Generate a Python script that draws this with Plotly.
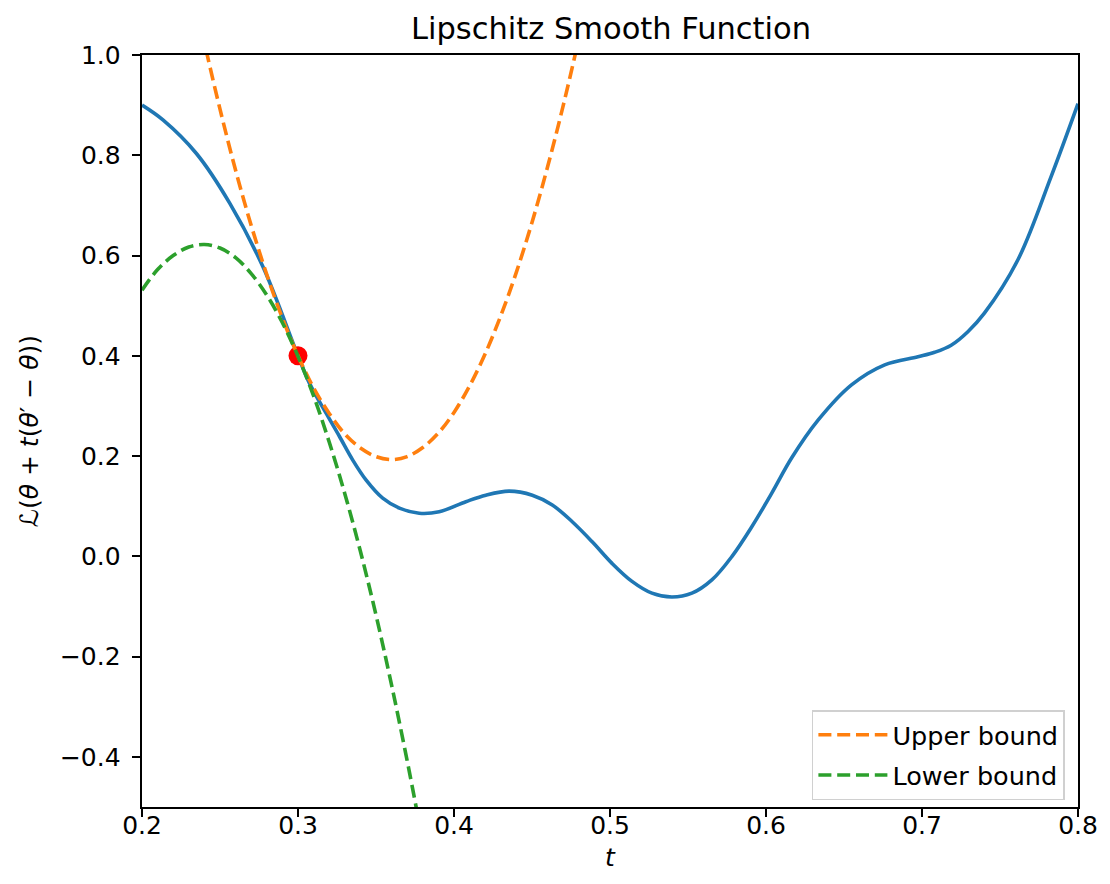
import plotly.graph_objects as go

# Loss curve L(theta + t(theta' - theta))
t_curve = [0.200, 0.2136, 0.235, 0.2563, 0.2776, 0.300, 0.3074, 0.3181, 0.3266, 0.3351,
           0.3437, 0.3543, 0.3650, 0.3777, 0.3905, 0.4076, 0.4204, 0.4353, 0.4502, 0.4630,
           0.4758, 0.4886, 0.5013, 0.5141, 0.5269, 0.5397, 0.5525, 0.5653, 0.5781, 0.5909,
           0.6037, 0.6164, 0.6335, 0.6548, 0.6761, 0.6974, 0.7081, 0.7187, 0.7294, 0.740,
           0.7614, 0.7827, 0.800]
loss = [0.900, 0.870, 0.803, 0.704, 0.577, 0.400, 0.345, 0.285, 0.239, 0.192,
        0.152, 0.116, 0.096, 0.086, 0.089, 0.109, 0.122, 0.130, 0.122, 0.1025,
        0.069, 0.029, -0.014, -0.050, -0.0735, -0.081, -0.0735, -0.047, -0.0005, 0.059,
        0.126, 0.196, 0.272, 0.342, 0.382, 0.398, 0.407, 0.421, 0.448, 0.485,
        0.591, 0.757, 0.903]

# Upper bound (orange dashed)
t_upper = [0.20, 0.21, 0.22, 0.23, 0.24, 0.25, 0.26, 0.27, 0.28, 0.29, 0.30, 0.31, 0.32,
           0.33, 0.34, 0.35, 0.36, 0.37, 0.38, 0.39, 0.40, 0.41, 0.42, 0.43, 0.44, 0.45,
           0.46, 0.47, 0.48, 0.49, 0.50]
upper = [1.674, 1.494, 1.326, 1.170, 1.025, 0.892, 0.770, 0.660, 0.562, 0.475, 0.400,
         0.336, 0.285, 0.244, 0.216, 0.199, 0.193, 0.199, 0.217, 0.246, 0.287, 0.340,
         0.404, 0.480, 0.567, 0.666, 0.777, 0.899, 1.033, 1.179, 1.336]

# Lower bound (green dashed)
t_lower = [0.20, 0.21, 0.22, 0.23, 0.24, 0.25, 0.26, 0.27, 0.28, 0.29, 0.30, 0.31, 0.32,
           0.33, 0.34, 0.35, 0.36, 0.37, 0.38, 0.39]
lower = [0.531, 0.572, 0.600, 0.617, 0.622, 0.615, 0.596, 0.564, 0.521, 0.466, 0.399,
         0.320, 0.228, 0.125, 0.010, -0.117, -0.257, -0.408, -0.571, -0.746]

# Anchor point
t_point = [0.30]
v_point = [0.40]

x_ticks = [0.2, 0.3, 0.4, 0.5, 0.6, 0.7, 0.8]
y_ticks = [-0.4, -0.2, 0.0, 0.2, 0.4, 0.6, 0.8, 1.0]

FONT = "DejaVu Sans"
DASH = "13px,5.8px"
W, H = 1102, 876

fig = go.Figure()
fig.add_trace(go.Scatter(x=t_curve, y=loss, mode="lines", showlegend=False,
                         line=dict(color="#1f77b4", width=3.6, shape="spline", smoothing=1.0)))
fig.add_trace(go.Scatter(x=t_point, y=v_point, mode="markers", showlegend=False,
                         marker=dict(color="red", size=19, line=dict(width=0))))
fig.add_trace(go.Scatter(x=t_upper, y=upper, mode="lines", name="Upper bound", legendgroup="u",
                         line=dict(color="#ff7f0e", width=3.6, dash=DASH, shape="spline")))
fig.add_trace(go.Scatter(x=t_lower, y=lower, mode="lines", name="Lower bound", legendgroup="l",
                         line=dict(color="#2ca02c", width=3.6, dash=DASH, shape="spline")))

axis_common = dict(showline=True, linecolor="black", linewidth=1.9, mirror=True,
                   ticks="outside", ticklen=8.4, tickwidth=1.9, tickcolor="black",
                   showgrid=False, zeroline=False,
                   tickfont=dict(family=FONT, size=25, color="black"))

fig.update_layout(
    width=W, height=H,
    margin=dict(l=134, r=30, t=47, b=77),
    plot_bgcolor="white", paper_bgcolor="white",
    font=dict(family=FONT, size=25, color="black"),
    title=dict(text="Lipschitz Smooth Function", x=(134 + 938 / 2) / W, xanchor="center",
               y=1 - 20 / H, yanchor="middle", yref="container",
               font=dict(family=FONT, size=30.5, color="black")),
    xaxis=dict(range=[0.2, 0.8], tickvals=x_ticks, tickformat=".1f", ticklabelstandoff=-13,
               **axis_common),
    yaxis=dict(range=[-0.5, 1.0], tickvals=y_ticks, tickformat=".1f", ticklabelstandoff=6,
               title=dict(text="ℒ(<i>θ</i> + <i>t</i>(<i>θ</i>′ − <i>θ</i>))", standoff=14,
                          font=dict(family=FONT, size=25)),
               **axis_common),
    legend=dict(x=0.986, y=0.009, xanchor="right", yanchor="bottom",
                bgcolor="rgba(255,255,255,0.8)", bordercolor="#d0d0d0", borderwidth=1.5,
                itemwidth=69, tracegroupgap=4,
                font=dict(family=FONT, size=25.5, color="black")),
    annotations=[dict(text="<i>t</i>", xref="paper", yref="paper", x=0.5, y=0,
                      xanchor="center", yanchor="middle", yshift=-50, height=20,
                      showarrow=False,
                      font=dict(family=FONT, size=25, color="black"))],
)

fig.write_html("out.html")
